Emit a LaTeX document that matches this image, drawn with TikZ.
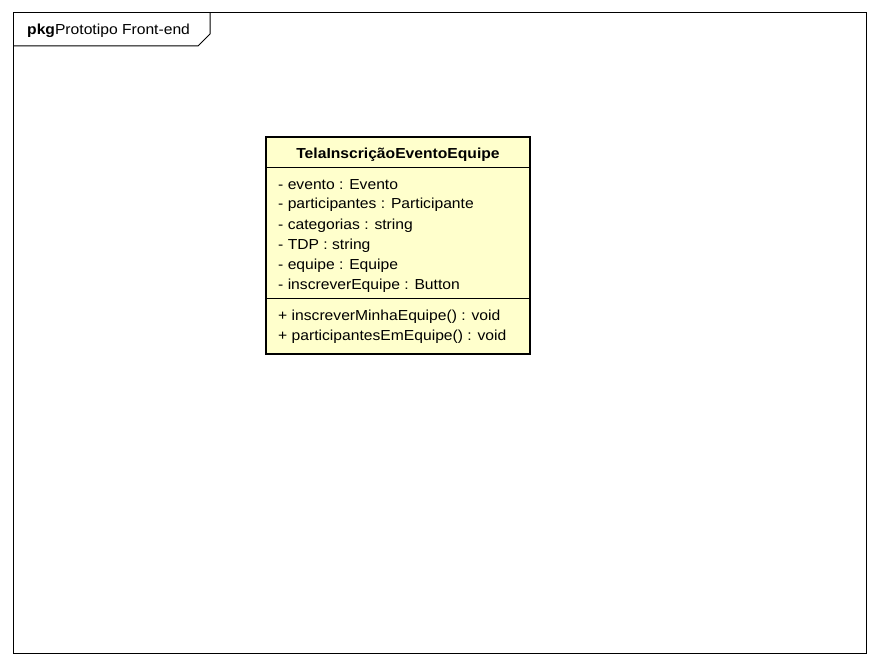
\documentclass[tikz,border=0pt]{standalone}
\usepackage{fontspec}
\setmainfont{Liberation Sans}
\newfontfamily\umlfont[FakeStretch=1.08]{Liberation Sans}
\usepackage{xcolor}
\usetikzlibrary{calc}
\definecolor{classfill}{RGB}{255,255,204}
\tikzstyle{frame}=[line width=1pt,black]
\tikzstyle{classbox}=[line width=2.2pt,draw=black,fill=classfill]
\tikzstyle{member}=[anchor=west,inner sep=0pt,yshift=-1pt,font=\umlfont\fontsize{14.5}{17}\selectfont]
\newcommand\attr[1]{- #1}
\newcommand\oper[1]{+ #1}

\begin{document}
\begin{tikzpicture}[x=1pt,y=-1pt]
	\useasboundingbox (0,0) rectangle (880,666);
	% package frame
	\draw[frame] (13,13) rectangle (866,653);
	\draw[frame] (13,46) -- (198,46) -- (210,34) -- (210,13);
	\node[member] (pkg) at (27,30) {\textbf{pkg}Prototipo Front-end};
	% class
	\draw[classbox] (266,137) rectangle (530,354);
	\coordinate (hl) at (266,167);
	\coordinate (hr) at (530,167);
	\coordinate (ml) at (266,298);
	\coordinate (mr) at (530,298);
	\draw[line width=.8pt] (hl) -- (hr);
	\draw[line width=.8pt] (ml) -- (mr);
	\node[member,anchor=center] (name) at (398,154) {\textbf{TelaInscriçãoEventoEquipe}};
	\node[member] (a1) at (278,184) {\attr{evento : Evento}};
	\node[member] (a2) at (278,204) {\attr{participantes : Participante}};
	\node[member] (a3) at (278,225) {\attr{categorias : string}};
	\node[member] (a4) at (278,245) {\attr{TDP : string}};
	\node[member] (a5) at (278,265) {\attr{equipe : Equipe}};
	\node[member] (a6) at (278,285) {\attr{inscreverEquipe : Button}};
	\node[member] (o1) at (278,316) {\oper{inscreverMinhaEquipe() : void}};
	\node[member] (o2) at (278,336) {\oper{participantesEmEquipe() : void}};
\end{tikzpicture}
\end{document}
